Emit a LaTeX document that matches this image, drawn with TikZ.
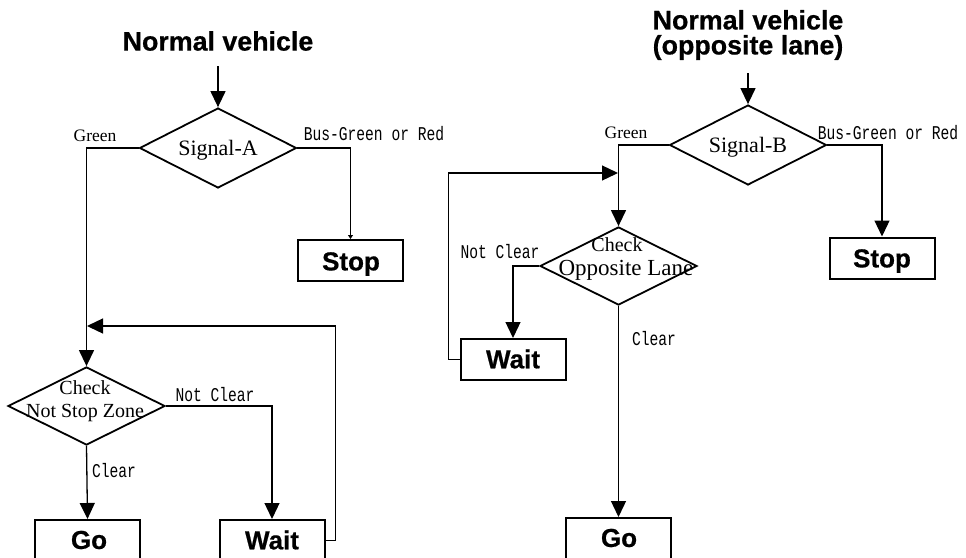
\documentclass[tikz,border=0pt]{standalone}
\usepackage{fontspec}
\setmainfont{Liberation Serif}
\newfontfamily\hfont{Liberation Sans}[BoldFeatures={FakeBold=0.6}]
\newfontfamily\labfont[FakeStretch=0.75]{Liberation Mono}
\usetikzlibrary{shapes.geometric,arrows.meta}
\tikzset{
  dia/.style={diamond,draw,line width=1.8pt,minimum width=157pt,minimum height=80pt,inner sep=0pt},
  dtext/.style={font=\fontsize{20}{25}\selectfont,inner sep=0pt,align=center},
  stext/.style={font=\fontsize{22}{26}\selectfont,inner sep=0pt},
  box/.style={draw,line width=2pt,minimum width=105pt,minimum height=41pt,inner sep=0pt},
  btext/.style={font=\hfont\bfseries\fontsize{26}{28}\selectfont,inner sep=0pt},
  title/.style={font=\hfont\bfseries\fontsize{26.8}{25}\selectfont,align=center,inner sep=0pt},
  lab/.style={font=\labfont\fontsize{19.5}{20}\selectfont,inner sep=0pt},
  glab/.style={font=\fontsize{17.5}{20}\selectfont,inner sep=0pt},
  conn/.style={line width=1.3pt},
  arr/.style={conn,-{Triangle[length=16pt,width=15pt]}},
  sarr/.style={conn,-{Triangle[length=4pt,width=5pt]}},
}
\begin{document}
\begin{tikzpicture}[x=1pt,y=-1pt]
\useasboundingbox (0,0) rectangle (966,557);
\clip (0,0) rectangle (966,557);
\fill[white] (0,0) rectangle (966,557);
% ---------- left chart ----------
\node[title] (t1) at (218,41) {Normal vehicle};
\node[dia] (sa) at (218,148) {};
\node[stext] (sat) at (218,150) {Signal-A};
\node[box] (stopA) at (350.5,260.5) {};
\node[btext] (stopAt) at (351,264) {Stop};
\node[dia,minimum height=78pt] (csz) at (86.5,406) {};
\node[dtext] (csz1) at (85,388) {Check};
\node[dtext] (csz2) at (85,413) {Not Stop Zone};
\node[box,anchor=north] (goA) at (87.5,519) {};
\node[btext] (goAt) at (89,540) {Go};
\node[box,anchor=north] (waitA) at (272,519) {};
\node[btext] (waitAt) at (272,540) {Wait};
\coordinate (jA) at (87,326);

\node[glab] (gA) at (95,136) {Green};
\node[lab] (bA) at (374,134) {Bus-Green or Red};
\node[lab] (ncA) at (215,395) {Not Clear};
\node[lab] (clA) at (114,471) {Clear};

\draw[arr] ([yshift=-15pt]t1.south) -- (sa.north);
\draw[arr] (sa.west) -| (csz.north);
\draw[sarr] (sa.east) -| (stopA.north);
\draw[arr] (csz.east) -| (waitA.north);
\draw[arr] (csz.south) -- (goA.north);
\draw[arr] (waitA.east) -- ++(10,0) |- (jA);

% ---------- right chart ----------
\node[title] (t2) at (748,35) {Normal vehicle\\(opposite lane)};
\node[dia] (sb) at (748,145) {};
\node[stext] (sbt) at (748,147) {Signal-B};
\node[box] (stopB) at (882,258) {};
\node[btext] (stopBt) at (882,261) {Stop};
\node[dia,minimum height=78pt] (cop) at (618.5,266) {};
\node[dtext] (cop1) at (617,245) {Check};
\node[dtext,font=\fontsize{23}{25}\selectfont] (cop2) at (626,270) {Opposite Lane};
\node[box] (waitB) at (513,359.5) {};
\node[btext] (waitBt) at (513,359) {Wait};
\node[box,anchor=north] (goB) at (618.5,517) {};
\node[btext] (goBt) at (619,538) {Go};
\coordinate (jB) at (618,173);

\node[glab] (gB) at (626,133) {Green};
\node[lab] (bB) at (888,133) {Bus-Green or Red};
\node[lab] (ncB) at (500,252) {Not Clear};
\node[lab] (clB) at (654,339) {Clear};

\draw[arr] ([yshift=-13pt]t2.south) -- (sb.north);
\draw[arr] (sb.west) -| (cop.north);
\draw[arr] (sb.east) -| (stopB.north);
\draw[arr] (cop.west) -| (waitB.north);
\draw[arr] (cop.south) -- (goB.north);
\draw[arr] (waitB.west) -- ++(-11,0) |- (jB);
\end{tikzpicture}
\end{document}
